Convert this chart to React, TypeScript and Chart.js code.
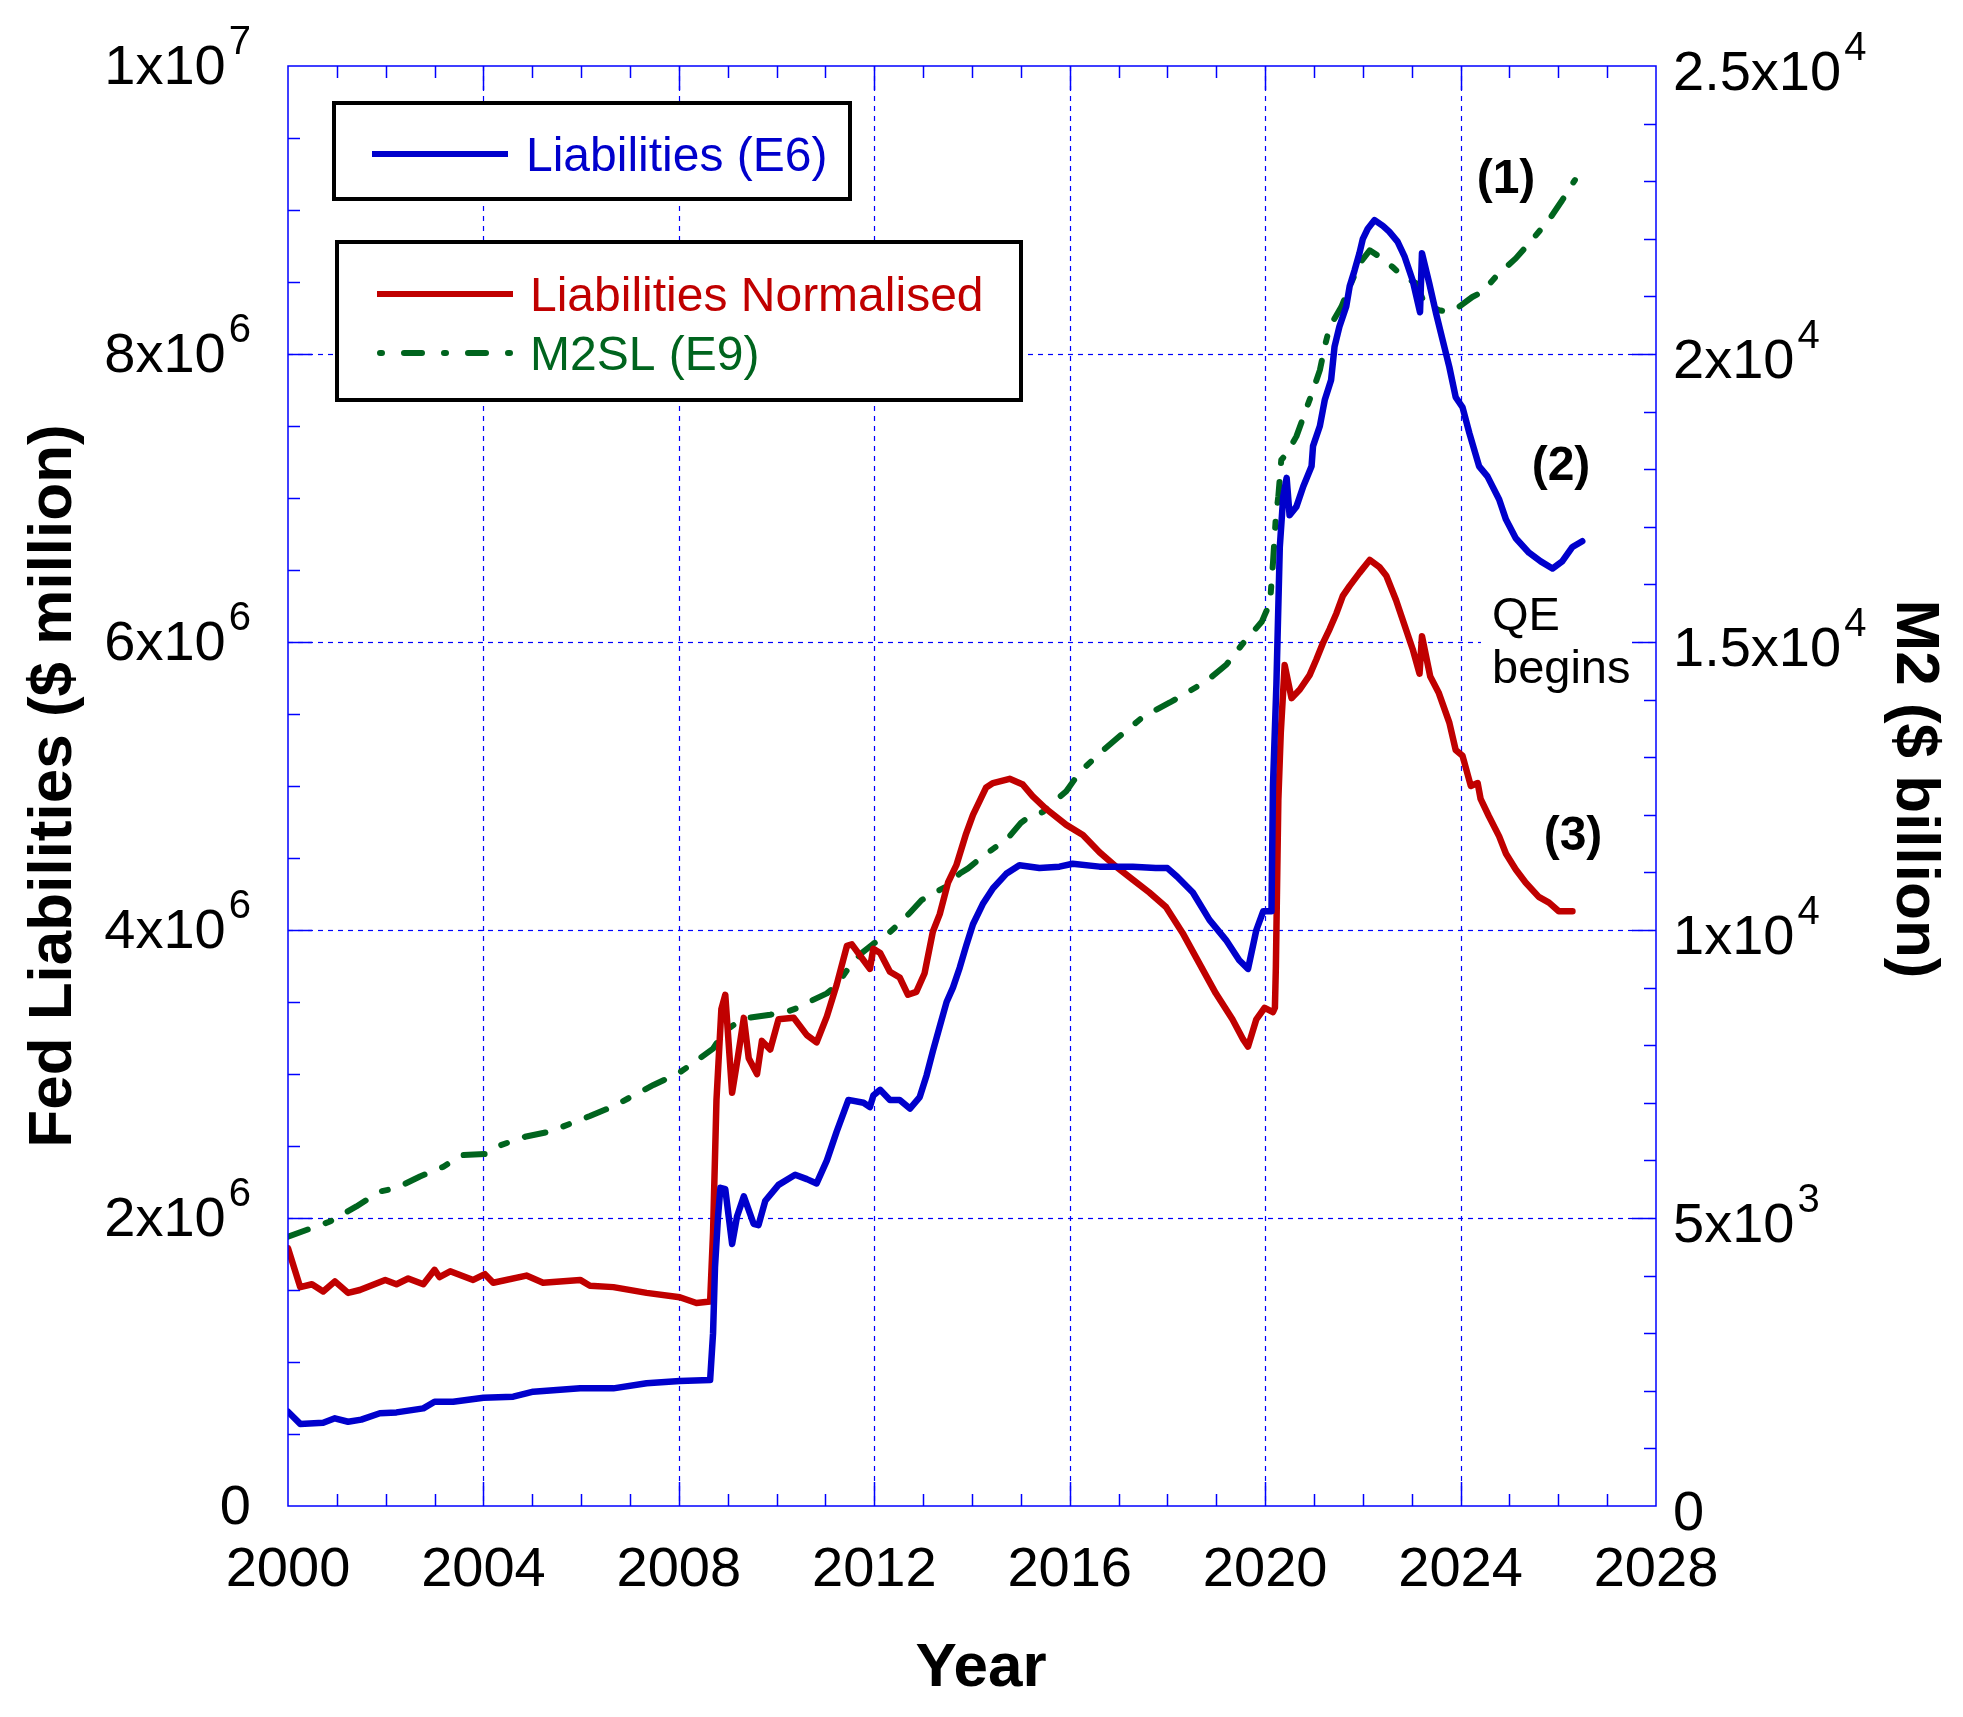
import React, { useEffect, useRef } from 'react';
import { Chart, registerables } from 'chart.js';

Chart.register(...registerables);

// ---------- data ----------
const blueYears = [
  2000.0, 2000.25, 2000.72, 2000.96, 2001.23, 2001.5, 2001.88, 2002.22, 2002.77, 2003.0, 2003.38, 2004.0,
  2004.61, 2005.02, 2005.5, 2005.98, 2006.66, 2007.34, 2008.02, 2008.64, 2008.70, 2008.74, 2008.80, 2008.85,
  2008.95, 2009.09, 2009.19, 2009.33, 2009.53, 2009.63, 2009.77, 2010.04, 2010.38, 2010.62, 2010.82, 2011.03,
  2011.23, 2011.47, 2011.78, 2011.91, 2011.98, 2012.12, 2012.32, 2012.52, 2012.73, 2012.93, 2013.07, 2013.2,
  2013.34, 2013.48, 2013.61, 2013.75, 2013.88, 2014.02, 2014.22, 2014.43, 2014.70, 2014.97, 2015.38, 2015.79,
  2016.06, 2016.61, 2017.29, 2017.76, 2018.0, 2018.2, 2018.52, 2018.86, 2019.2, 2019.47, 2019.65, 2019.82,
  2019.96, 2020.13, 2020.16, 2020.23, 2020.30, 2020.37, 2020.44, 2020.50, 2020.64, 2020.78, 2020.95, 2020.98,
  2021.12, 2021.22, 2021.35, 2021.42, 2021.52, 2021.66, 2021.73, 2021.83, 2021.93, 2022.0, 2022.10, 2022.24,
  2022.41, 2022.54, 2022.71, 2022.85, 2023.02, 2023.17, 2023.21, 2023.36, 2023.50, 2023.63, 2023.77, 2023.90,
  2024.04, 2024.18, 2024.38, 2024.55, 2024.79, 2024.93, 2025.13, 2025.40, 2025.64, 2025.88, 2026.08, 2026.29,
  2026.49,
];
const blueValues = [
  655000, 570000, 578000, 609000, 585000, 600000, 644000, 650000, 678000, 724000, 724000, 752000,
  759000, 794000, 805000, 817000, 817000, 852000, 868000, 875000, 1200000, 1660000, 2000000, 2210000,
  2200000, 1820000, 2010000, 2150000, 1960000, 1950000, 2120000, 2230000, 2300000, 2270000, 2240000, 2400000,
  2600000, 2820000, 2800000, 2770000, 2850000, 2890000, 2820000, 2820000, 2760000, 2840000, 2990000, 3160000,
  3330000, 3500000, 3600000, 3740000, 3890000, 4040000, 4180000, 4290000, 4390000, 4450000, 4430000, 4440000,
  4460000, 4440000, 4440000, 4430000, 4430000, 4370000, 4260000, 4070000, 3930000, 3790000, 3730000, 4000000,
  4130000, 4130000, 5000000, 5700000, 6660000, 7010000, 7140000, 6880000, 6940000, 7080000, 7220000, 7360000,
  7500000, 7680000, 7820000, 8050000, 8190000, 8330000, 8470000, 8580000, 8700000, 8800000, 8870000, 8930000,
  8890000, 8850000, 8780000, 8680000, 8510000, 8290000, 8700000, 8490000, 8280000, 8100000, 7910000, 7700000,
  7630000, 7450000, 7220000, 7150000, 6990000, 6850000, 6720000, 6620000, 6560000, 6510000, 6560000, 6660000,
  6700000,
];

const redYears = [
  2000.0, 2000.25, 2000.49, 2000.72, 2000.96, 2001.23, 2001.47, 2001.99, 2002.22, 2002.46, 2002.77, 2003.0,
  2003.1, 2003.32, 2003.79, 2004.03, 2004.2, 2004.88, 2005.22, 2005.98, 2006.18, 2006.66, 2007.34, 2008.02,
  2008.36, 2008.64, 2008.70, 2008.77, 2008.87, 2008.95, 2009.09, 2009.2, 2009.33, 2009.43, 2009.6, 2009.70,
  2009.87, 2010.04, 2010.35, 2010.62, 2010.82, 2011.03, 2011.23, 2011.44, 2011.54, 2011.78, 2011.91, 2011.98,
  2012.12, 2012.32, 2012.52, 2012.69, 2012.86, 2013.03, 2013.2, 2013.34, 2013.51, 2013.68, 2013.88, 2014.02,
  2014.29, 2014.43, 2014.77, 2015.04, 2015.24, 2015.52, 2015.93, 2016.27, 2016.61, 2016.95, 2017.29, 2017.63,
  2017.97, 2018.31, 2018.65, 2018.99, 2019.33, 2019.55, 2019.65, 2019.82, 2019.99, 2020.16, 2020.20, 2020.22,
  2020.27, 2020.32, 2020.40, 2020.54, 2020.71, 2020.91, 2021.05, 2021.18, 2021.32, 2021.46, 2021.59, 2021.73,
  2021.93, 2022.14, 2022.34, 2022.48, 2022.68, 2022.85, 2023.02, 2023.16, 2023.21, 2023.38, 2023.55, 2023.77,
  2023.90, 2024.04, 2024.21, 2024.35, 2024.41, 2024.58, 2024.79, 2024.93, 2025.13, 2025.33, 2025.60, 2025.81,
  2026.01, 2026.29,
];
const redValues = [
  1790000, 1520000, 1540000, 1490000, 1560000, 1480000, 1500000, 1570000, 1540000, 1580000, 1540000, 1640000,
  1590000, 1630000, 1570000, 1610000, 1550000, 1600000, 1550000, 1570000, 1530000, 1520000, 1480000, 1450000,
  1410000, 1420000, 1900000, 2820000, 3450000, 3550000, 2870000, 3100000, 3390000, 3110000, 3000000, 3230000,
  3170000, 3380000, 3390000, 3270000, 3220000, 3400000, 3620000, 3890000, 3900000, 3790000, 3730000, 3870000,
  3840000, 3710000, 3670000, 3550000, 3570000, 3700000, 3990000, 4110000, 4330000, 4450000, 4670000, 4800000,
  4990000, 5020000, 5050000, 5010000, 4930000, 4840000, 4730000, 4660000, 4540000, 4440000, 4350000, 4260000,
  4160000, 3980000, 3770000, 3560000, 3380000, 3240000, 3190000, 3380000, 3460000, 3430000, 3460000, 3750000,
  4900000, 5370000, 5840000, 5610000, 5670000, 5770000, 5880000, 5990000, 6090000, 6200000, 6320000, 6390000,
  6480000, 6570000, 6520000, 6460000, 6290000, 6120000, 5950000, 5780000, 6040000, 5760000, 5650000, 5440000,
  5250000, 5210000, 5000000, 5020000, 4910000, 4790000, 4650000, 4530000, 4420000, 4330000, 4230000, 4190000,
  4130000, 4130000,
];

const greenYears = [
  2000.0, 2000.86, 2001.4, 2001.88, 2002.22, 2002.70, 2003.18, 2003.55, 2004.03, 2004.37, 2004.85, 2005.36,
  2006.18, 2006.66, 2007.48, 2007.99, 2008.44, 2008.70, 2008.92, 2009.12, 2009.39, 2009.87, 2010.21, 2010.41,
  2010.68, 2011.03, 2011.23, 2011.44, 2011.74, 2011.98, 2012.29, 2012.56, 2012.73, 2012.97, 2013.48, 2013.75,
  2013.92, 2014.22, 2014.73, 2015.0, 2015.14, 2015.45, 2015.93, 2016.13, 2016.33, 2016.67, 2017.0, 2017.5,
  2018.05, 2018.80, 2019.21, 2019.55, 2019.93, 2020.10, 2020.16, 2020.22, 2020.27, 2020.33, 2020.44, 2020.64,
  2020.81, 2020.98, 2021.12, 2021.22, 2021.32, 2021.56, 2021.73, 2021.93, 2022.14, 2022.34, 2022.61, 2022.82,
  2023.09, 2023.26, 2023.56, 2023.77, 2023.97, 2024.24, 2024.45, 2024.72, 2025.13, 2025.40, 2025.81, 2026.08,
  2026.34,
];
const greenValues = [
  4675, 4940, 5200, 5460, 5520, 5720, 5890, 6090, 6110, 6270, 6410, 6500,
  6770, 6940, 7310, 7510, 7780, 7940, 8230, 8350, 8470, 8530, 8580, 8640,
  8760, 8900, 9040, 9300, 9600, 9760, 9940, 10150, 10300, 10520, 10760, 10980,
  11070, 11280, 11590, 11860, 11950, 12050, 12410, 12650, 12840, 13110, 13350, 13700,
  13950, 14320, 14610, 14980, 15350, 15680, 16370, 17180, 17530, 18160, 18270, 18570,
  18970, 19370, 19720, 20130, 20470, 20820, 21170, 21570, 21800, 21690, 21510, 21340,
  21230, 20880, 20760, 20730, 20820, 20990, 21080, 21340, 21660, 21920, 22330, 22670,
  23020,
];

// ---------- axes / tick labels ----------
const xTickValues = [2000, 2004, 2008, 2012, 2016, 2020, 2024, 2028];
const xTickLabels = ['2000', '2004', '2008', '2012', '2016', '2020', '2024', '2028'];
const leftTickValues = [0, 2000000, 4000000, 6000000, 8000000, 10000000];
const leftTickBases = ['0', '2x10', '4x10', '6x10', '8x10', '1x10'];
const leftTickExps = ['', '6', '6', '6', '6', '7'];
const rightTickValues = [0, 5000, 10000, 15000, 20000, 25000];
const rightTickBases = ['0', '5x10', '1x10', '1.5x10', '2x10', '2.5x10'];
const rightTickExps = ['', '3', '4', '4', '4', '4'];

const seriesLabels = ['Liabilities (E6)', 'Liabilities Normalised', 'M2SL (E9)'];
const annotationTexts = ['(1)', '(2)', '(3)'];
const qeLines = ['QE', 'begins'];

const BLUE = '#0000CC';
const RED = '#C00000';
const GREEN = '#00641E';
const AXIS = '#0000FF';
const FONT = '"Liberation Sans", Arial, Helvetica, sans-serif';

function drawSci(ctx: CanvasRenderingContext2D, x: number, y: number, base: string, exp: string, align: 'left' | 'right') {
  ctx.font = `56px ${FONT}`;
  const wb = ctx.measureText(base).width;
  ctx.font = `40px ${FONT}`;
  const we = exp ? ctx.measureText(exp).width : 0;
  const gap = exp ? 3 : 0;
  const total = wb + gap + we;
  const x0 = align === 'right' ? x - total : x;
  ctx.textAlign = 'left';
  ctx.textBaseline = 'alphabetic';
  ctx.fillStyle = '#000';
  ctx.font = `56px ${FONT}`;
  ctx.fillText(base, x0, y);
  if (exp) {
    ctx.font = `40px ${FONT}`;
    ctx.fillText(exp, x0 + wb + gap, y - 30);
  }
}

function seg(ctx: CanvasRenderingContext2D, x1: number, y1: number, x2: number, y2: number) {
  ctx.beginPath();
  ctx.moveTo(x1, y1);
  ctx.lineTo(x2, y2);
  ctx.stroke();
}

const framePlugin = {
  id: 'framePlugin',
  beforeDatasetsDraw(chart: any) {
    const { ctx, chartArea: a, scales } = chart;
    const sx = scales.x;
    const sy = scales.y;
    ctx.save();
    ctx.strokeStyle = AXIS;
    ctx.lineWidth = 1.2;
    ctx.setLineDash([5, 5]);
    xTickValues.forEach((v) => {
      if (v > sx.min && v < sx.max) {
        const px = Math.round(sx.getPixelForValue(v)) + 0.5;
        seg(ctx, px, a.top, px, a.bottom);
      }
    });
    leftTickValues.forEach((v) => {
      if (v > sy.min && v < sy.max) {
        const py = Math.round(sy.getPixelForValue(v)) + 0.5;
        seg(ctx, a.left, py, a.right, py);
      }
    });
    ctx.setLineDash([]);
    // white backing behind the "QE begins" note
    ctx.fillStyle = '#fff';
    ctx.fillRect(1473, 580, 157, 112);
    ctx.restore();
  },
  afterDatasetsDraw(chart: any) {
    const { ctx, chartArea: a, scales } = chart;
    const sx = scales.x;
    const sy = scales.y;
    const sy1 = scales.y1;
    ctx.save();
    ctx.strokeStyle = AXIS;
    ctx.lineWidth = 1.5;
    ctx.setLineDash([]);
    ctx.strokeRect(a.left, a.top, a.right - a.left, a.bottom - a.top);

    // x ticks (top and bottom), every year, major every 4
    for (let yr = 2001; yr < 2028; yr++) {
      const px = Math.round(sx.getPixelForValue(yr)) + 0.5;
      const len = xTickValues.includes(yr) ? 24 : 12;
      seg(ctx, px, a.bottom, px, a.bottom - len);
      seg(ctx, px, a.top, px, a.top + len);
    }
    // left ticks, minor every 5e5
    for (let v = 500000; v < 10000000; v += 500000) {
      const py = Math.round(sy.getPixelForValue(v)) + 0.5;
      const len = leftTickValues.includes(v) ? 24 : 12;
      seg(ctx, a.left, py, a.left + len, py);
    }
    // right ticks, minor every 1e3
    for (let v = 1000; v < 25000; v += 1000) {
      const py = Math.round(sy1.getPixelForValue(v)) + 0.5;
      const len = rightTickValues.includes(v) ? 24 : 12;
      seg(ctx, a.right, py, a.right - len, py);
    }

    // tick labels
    ctx.fillStyle = '#000';
    ctx.font = `56px ${FONT}`;
    ctx.textAlign = 'center';
    ctx.textBaseline = 'alphabetic';
    xTickValues.forEach((v, i) => {
      ctx.fillText(xTickLabels[i], sx.getPixelForValue(v), a.bottom + 80);
    });
    leftTickValues.forEach((v, i) => {
      drawSci(ctx, a.left - 37, sy.getPixelForValue(v) + 18, leftTickBases[i], leftTickExps[i], 'right');
    });
    rightTickValues.forEach((v, i) => {
      drawSci(ctx, a.right + 17, sy1.getPixelForValue(v) + 24, rightTickBases[i], rightTickExps[i], 'left');
    });

    // axis titles
    ctx.font = `bold 62px ${FONT}`;
    ctx.textAlign = 'center';
    ctx.textBaseline = 'alphabetic';
    ctx.fillText('Year', 973, 1678);
    ctx.save();
    ctx.translate(46, 778);
    ctx.rotate(-Math.PI / 2);
    ctx.textBaseline = 'middle';
    ctx.fillText('Fed Liabilities ($ million)', 0, 0);
    ctx.restore();
    ctx.save();
    ctx.translate(1906, 781);
    ctx.rotate(Math.PI / 2);
    ctx.textBaseline = 'middle';
    ctx.fillText('M2 ($ billion)', 0, 0);
    ctx.restore();

    // legend boxes
    ctx.lineWidth = 4;
    ctx.strokeStyle = '#000';
    ctx.fillStyle = '#fff';
    ctx.fillRect(326, 95, 516, 96);
    ctx.strokeRect(326, 95, 516, 96);
    ctx.fillRect(329, 234, 684, 158);
    ctx.strokeRect(329, 234, 684, 158);

    ctx.lineWidth = 6;
    ctx.lineCap = 'butt';
    ctx.strokeStyle = BLUE;
    seg(ctx, 364, 146, 500, 146);
    ctx.strokeStyle = RED;
    seg(ctx, 369, 286, 505, 286);
    ctx.strokeStyle = GREEN;
    ctx.lineWidth = 6;
    ctx.lineCap = 'round';
    ctx.setLineDash([2, 22, 18, 22]);
    seg(ctx, 372, 345, 503, 345);
    ctx.setLineDash([]);

    ctx.font = `48px ${FONT}`;
    ctx.textAlign = 'left';
    ctx.textBaseline = 'alphabetic';
    ctx.fillStyle = BLUE;
    ctx.fillText(seriesLabels[0], 518, 163);
    ctx.fillStyle = RED;
    ctx.fillText(seriesLabels[1], 522, 303);
    ctx.fillStyle = GREEN;
    ctx.fillText(seriesLabels[2], 522, 362);

    // annotations
    ctx.fillStyle = '#000';
    ctx.font = `bold 48px ${FONT}`;
    ctx.textAlign = 'center';
    ctx.textBaseline = 'middle';
    ctx.fillText(annotationTexts[0], 1498, 172);
    ctx.fillText(annotationTexts[1], 1553, 459);
    ctx.fillText(annotationTexts[2], 1565, 829);
    ctx.font = `47px ${FONT}`;
    ctx.textAlign = 'left';
    ctx.textBaseline = 'alphabetic';
    ctx.fillText(qeLines[0], 1484, 622);
    ctx.fillText(qeLines[1], 1484, 675);
    ctx.restore();
  },
};

export default function App() {
  const canvasRef = useRef<HTMLCanvasElement | null>(null);

  useEffect(() => {
    if (!canvasRef.current) return;
    const toPts = (xs: number[], ys: number[]) => xs.map((x, i) => ({ x, y: ys[i] }));
    const chart = new Chart(canvasRef.current, {
      type: 'line',
      data: {
        datasets: [
          {
            label: seriesLabels[0],
            data: toPts(blueYears, blueValues),
            borderColor: BLUE,
            borderWidth: 6.5,
            pointRadius: 0,
            tension: 0,
            yAxisID: 'y',
            borderJoinStyle: 'round',
            borderCapStyle: 'round',
          },
          {
            label: seriesLabels[1],
            data: toPts(redYears, redValues),
            borderColor: RED,
            borderWidth: 6.5,
            pointRadius: 0,
            tension: 0,
            yAxisID: 'y',
            borderJoinStyle: 'round',
            borderCapStyle: 'round',
          },
          {
            label: seriesLabels[2],
            data: toPts(greenYears, greenValues),
            borderColor: GREEN,
            borderWidth: 6,
            pointRadius: 0,
            tension: 0,
            yAxisID: 'y1',
            borderDash: [21, 19, 6, 19],
            borderJoinStyle: 'round',
            borderCapStyle: 'round',
          },
        ],
      },
      options: {
        animation: false,
        responsive: false,
        devicePixelRatio: 1,
        events: [],
        layout: { padding: { left: 280, top: 58, right: 299, bottom: 203 } },
        plugins: { legend: { display: false }, tooltip: { enabled: false } },
        scales: {
          x: { type: 'linear', min: 2000, max: 2028, display: false },
          y: { type: 'linear', min: 0, max: 10000000, display: false },
          y1: { type: 'linear', min: 0, max: 25000, display: false, position: 'right' },
        },
      } as any,
      plugins: [framePlugin],
    });
    return () => chart.destroy();
  }, []);

  return (
    <div style={{ width: 1947, height: 1701 }}>
      <canvas ref={canvasRef} width={1947} height={1701} style={{ display: 'block', width: 1947, height: 1701 }} />
    </div>
  );
}
